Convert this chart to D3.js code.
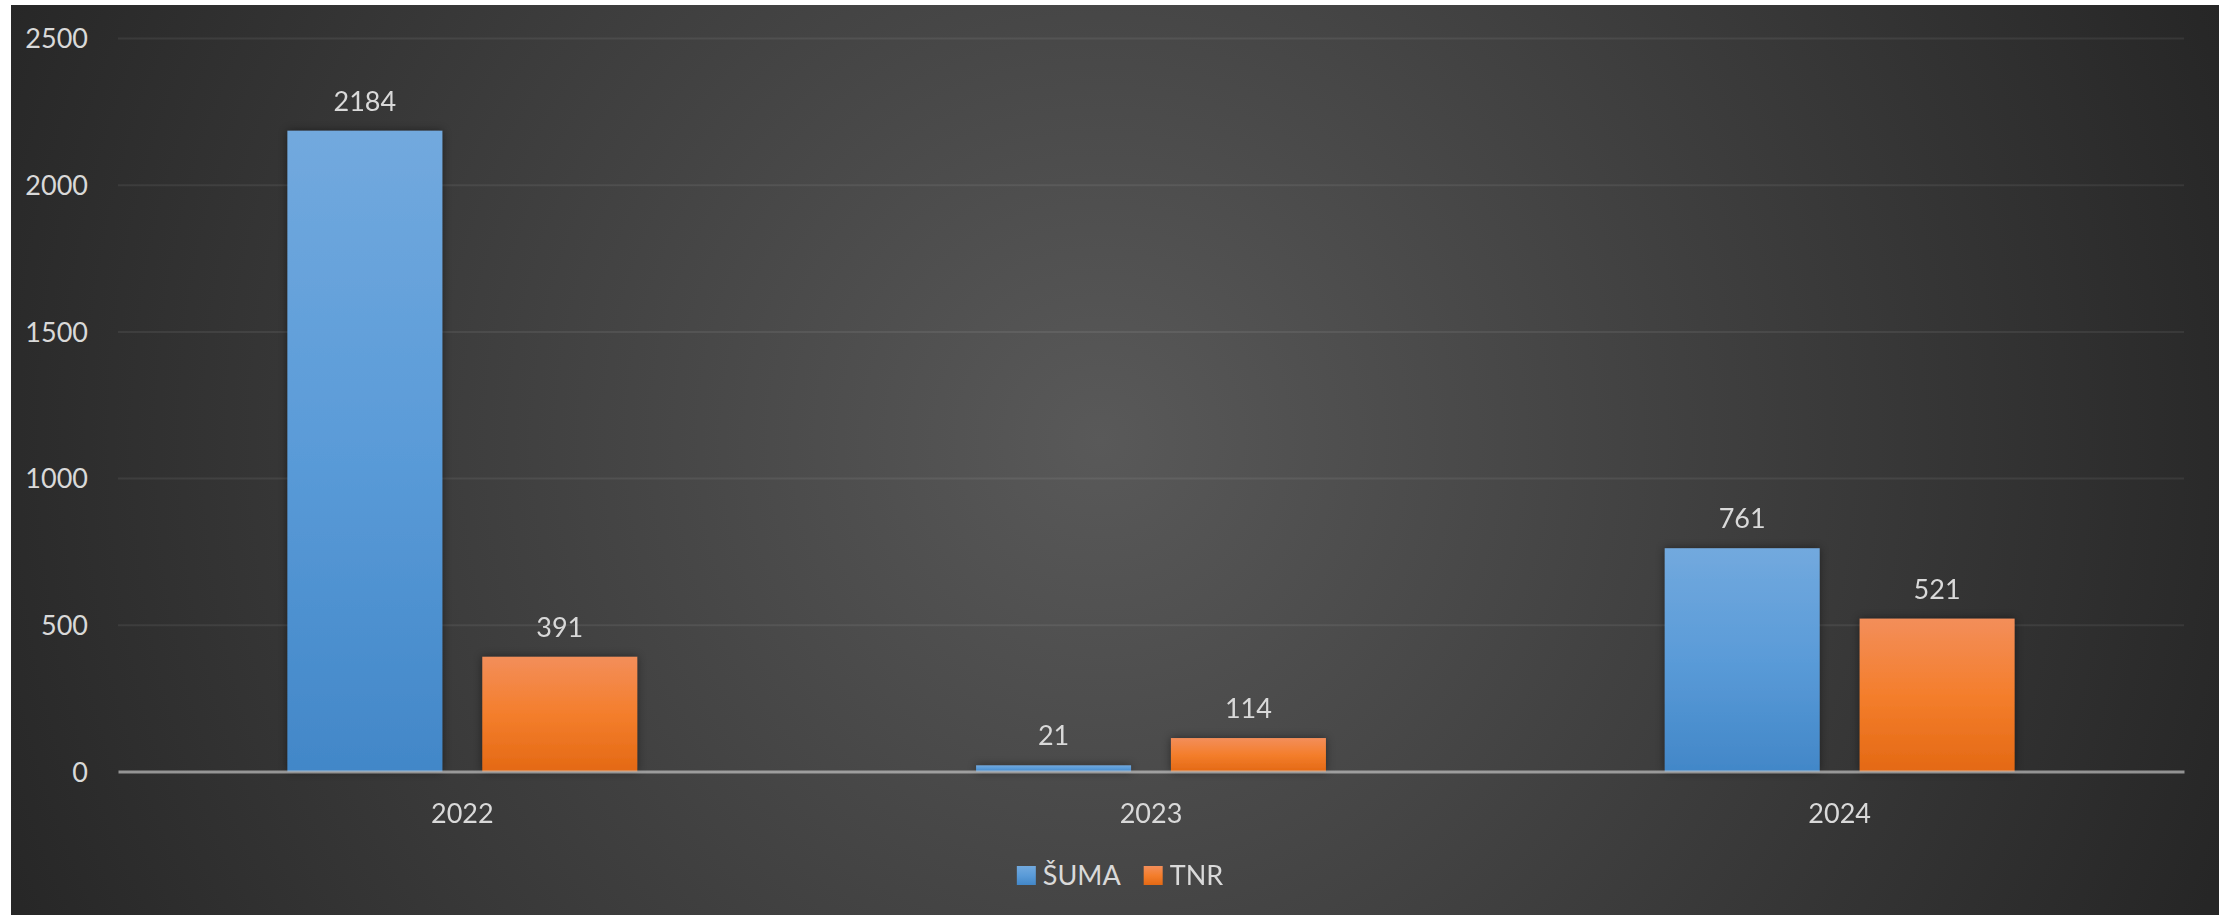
<!DOCTYPE html>
<html>
<head>
<meta charset="utf-8">
<script src="https://cdn.jsdelivr.net/npm/d3@7"></script>
<style>
  html, body { margin: 0; padding: 0; background: #ffffff; }
  svg { display: block; }
  text { font-family: Lato, "Noto Sans", sans-serif; }
</style>
</head>
<body>
<div id="chart"></div>
<script>
const years = ['2022', '2023', '2024'];
const seriesNames = ['ŠUMA', 'TNR'];
const sumaValues = [2184, 21, 761];
const tnrValues = [391, 114, 521];
const yTicks = [0, 500, 1000, 1500, 2000, 2500];

const SERIES_GRADIENTS = {
    'ŠUMA': ['#72a9de', '#5a9bd8', '#4287c8'],
    'TNR': ['#f38e5a', '#f47e2c', '#e46914'],
};
const TEXT_COLOR = '#d9d9d9';

const W = 2231, H = 915;
const plot = { left: 118, right: 2184, top: 38, bottom: 771.5 };

const rows = years.map((yr, i) => ({
    year: yr,
    values: [
        { name: seriesNames[0], value: sumaValues[i] },
        { name: seriesNames[1], value: tnrValues[i] },
    ],
}));

const svg = d3.select('#chart')
    .append('svg')
    .attr('width', W)
    .attr('height', H);

const defs = svg.append('defs');

const bg = defs.append('radialGradient')
    .attr('id', 'bg-grad')
    .attr('gradientUnits', 'userSpaceOnUse')
    .attr('cx', 1100).attr('cy', 440).attr('r', 1200);
bg.append('stop').attr('offset', '0%').attr('stop-color', '#595959');
bg.append('stop').attr('offset', '100%').attr('stop-color', '#262626');

seriesNames.forEach((name, i) => {
    const g = defs.append('linearGradient')
        .attr('id', `bar-grad-${i}`)
        .attr('x1', 0).attr('y1', 0).attr('x2', 0).attr('y2', 1);
    const cols = SERIES_GRADIENTS[name];
    g.append('stop').attr('offset', '0%').attr('stop-color', cols[0]);
    g.append('stop').attr('offset', '50%').attr('stop-color', cols[1]);
    g.append('stop').attr('offset', '100%').attr('stop-color', cols[2]);
});

defs.append('filter')
    .attr('id', 'bar-shadow')
    .attr('x', '-20%').attr('y', '-20%').attr('width', '140%').attr('height', '140%')
    .append('feDropShadow')
    .attr('dx', 0).attr('dy', 0)
    .attr('stdDeviation', 4)
    .attr('flood-color', '#000')
    .attr('flood-opacity', 0.45);

// chart area background
svg.append('rect')
    .attr('x', 11).attr('y', 5)
    .attr('width', 2219 - 11).attr('height', H - 5)
    .attr('fill', 'url(#bg-grad)');

const x0 = d3.scaleBand()
    .domain(years)
    .range([plot.left, plot.right])
    .paddingInner(0.492)
    .paddingOuter(0.246);

const x1 = d3.scaleBand()
    .domain(seriesNames)
    .range([0, x0.bandwidth()])
    .paddingInner(0.205);

const y = d3.scaleLinear()
    .domain([0, 2500])
    .range([plot.bottom, plot.top]);

// gridlines
const grid = svg.append('g')
    .attr('transform', `translate(${plot.left},0)`)
    .call(d3.axisLeft(y)
        .tickValues(yTicks.filter(v => v > 0))
        .tickSize(-(plot.right - plot.left))
        .tickFormat(''));
grid.select('.domain').remove();
grid.selectAll('line')
    .attr('stroke', '#ffffff')
    .attr('stroke-opacity', 0.07)
    .attr('stroke-width', 2);

// y tick labels
const yAxis = svg.append('g')
    .attr('transform', `translate(${plot.left},0)`)
    .call(d3.axisLeft(y)
        .tickValues(yTicks)
        .tickFormat(d3.format('d'))
        .tickSize(0)
        .tickPadding(30));
yAxis.select('.domain').remove();
yAxis.selectAll('text')
    .attr('font-family', 'Lato, "Noto Sans", sans-serif')
    .attr('font-size', 27)
    .attr('fill', TEXT_COLOR)
    .attr('dy', '0.36em');

// bars
const groups = svg.append('g')
    .attr('filter', 'url(#bar-shadow)')
    .selectAll('g')
    .data(rows)
    .enter()
    .append('g')
    .attr('transform', d => `translate(${x0(d.year)},0)`);

groups.selectAll('rect')
    .data(d => d.values)
    .enter()
    .append('rect')
    .attr('x', d => x1(d.name))
    .attr('y', d => y(d.value))
    .attr('width', x1.bandwidth())
    .attr('height', d => y(0) - y(d.value))
    .attr('fill', d => `url(#bar-grad-${seriesNames.indexOf(d.name)})`);

// value labels
svg.append('g')
    .selectAll('g')
    .data(rows)
    .enter()
    .append('g')
    .attr('transform', d => `translate(${x0(d.year)},0)`)
    .selectAll('text')
    .data(d => d.values)
    .enter()
    .append('text')
    .attr('x', d => x1(d.name) + x1.bandwidth() / 2)
    .attr('y', d => y(d.value) - 20)
    .attr('text-anchor', 'middle')
    .attr('font-size', 27)
    .attr('fill', TEXT_COLOR)
    .text(d => d.value);

// x axis baseline + category labels
const xAxis = svg.append('g')
    .attr('transform', `translate(0,${y(0)})`)
    .call(d3.axisBottom(x0).tickSize(0).tickPadding(0));
xAxis.select('.domain')
    .attr('stroke', '#d9d9d9')
    .attr('stroke-opacity', 0.6)
    .attr('stroke-width', 3);
xAxis.selectAll('text')
    .attr('font-family', 'Lato, "Noto Sans", sans-serif')
    .attr('font-size', 27)
    .attr('fill', TEXT_COLOR)
    .attr('dy', 0)
    .attr('y', 51.5);

// legend
const legend = svg.append('g');
let cursor = 0;
seriesNames.forEach((name, i) => {
    const item = legend.append('g').attr('transform', `translate(${cursor},0)`);
    item.append('rect')
        .attr('x', 0).attr('y', 866)
        .attr('width', 19).attr('height', 19)
        .attr('fill', `url(#bar-grad-${i})`);
    const t = item.append('text')
        .attr('x', 26).attr('y', 885)
        .attr('font-size', 27)
        .attr('fill', TEXT_COLOR)
        .text(name);
    cursor += 26 + t.node().getComputedTextLength() + 23;
});
const legendWidth = cursor - 23;
legend.attr('transform', `translate(${1120 - legendWidth / 2},0)`);
</script>
</body>
</html>
